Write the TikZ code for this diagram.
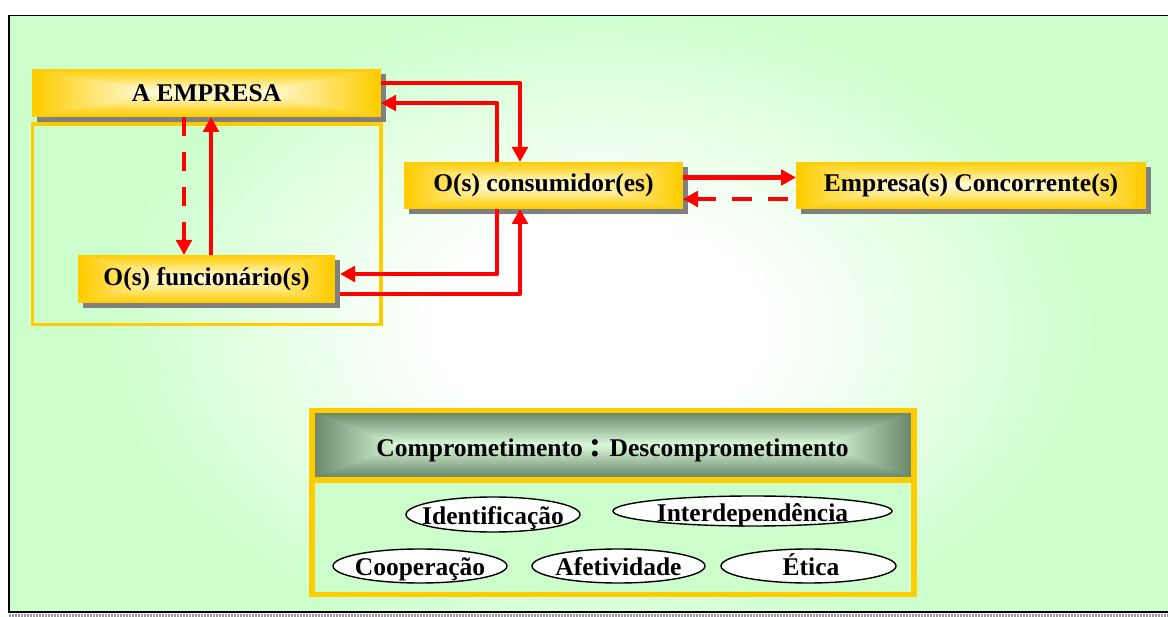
\documentclass[tikz,border=0pt]{standalone}
\usepackage{fontspec}
\setmainfont{Liberation Serif}
\usetikzlibrary{arrows.meta,shapes.geometric,shadows}

\definecolor{bggreen}{RGB}{204,255,204}
\definecolor{gold}{RGB}{255,204,0}
\definecolor{paleyel}{RGB}{255,251,214}
\definecolor{hdark}{RGB}{108,138,108}
\definecolor{hlight}{RGB}{214,246,214}
\definecolor{shadowgray}{RGB}{128,128,128}

% soft white glow in the middle of the green panel
\pgfdeclareradialshading{glow}{\pgfpoint{0bp}{0bp}}{color(0bp)=(white); color(8bp)=(white); color(25bp)=(bggreen); color(50bp)=(bggreen)}

% text placed in an oval without changing the oval's size
\newcommand\ovtxt[2]{\raisebox{#1}[0pt][0pt]{\makebox[0pt]{#2}}}

\begin{document}
\begin{tikzpicture}[x=1pt,y=-1pt,
  lbl/.style={font=\fontsize{25.5}{30}\selectfont\bfseries},
  % rectangular gradient: edge colour #3 fading to centre colour #4 over rx (#1) and ry (#2)
  ramp/.style n args={4}{path picture={
    \foreach \k in {0,...,20}{
      \pgfmathsetmacro\pc{100*\k/20}
      \pgfmathsetmacro\dx{\k*#1/20}
      \pgfmathsetmacro\dy{\k*#2/20}
      \fill[#4!\pc!#3]
        ([xshift=\dx pt, yshift=\dy pt]path picture bounding box.south west) rectangle
        ([xshift=-\dx pt, yshift=-\dy pt]path picture bounding box.north east);
    }}},
  goldbox/.style 2 args={lbl, inner sep=0pt, outer sep=0pt, fill=gold,
    ramp={#1}{#2}{gold}{paleyel},
    drop shadow={shadow xshift=5pt, shadow yshift=-5pt, fill=shadowgray, opacity=1}},
  oval/.style={ellipse, draw=black, line width=1.4pt, fill=white,
    inner sep=0pt, outer sep=0pt, lbl},
  arr/.style={draw=red, line width=4.5pt, line join=round,
    -{Triangle[length=15pt,width=15.5pt]}},
  dsh/.style={dash pattern=on 19pt off 16pt}
]
\useasboundingbox (0,0) rectangle (1168,617);
\clip (0,0) rectangle (1168,617);
\fill[white] (0,0) rectangle (1168,617);

% green panel with its black frame
\begin{scope}
  \clip (9,15.5) rectangle (1180,612);
  \fill[bggreen] (0,0) rectangle (1180,620);
  \shade[shading=glow] (100,0) rectangle (1100,660);
\end{scope}
\draw[line width=1.8pt] (9,15.5) rectangle (1180,612);
\draw[shadowgray!80, line width=2.5pt, dash pattern=on 2pt off 1pt] (9,615.3) -- (1168,615.3);

% company and its staff
\node[draw=gold, line width=3.5pt, inner sep=0pt, minimum width=348.5pt, minimum height=200.7pt] (grp) at (206.75,224.35) {};
\node[goldbox={110}{22}, minimum width=349pt, minimum height=48pt] (emp) at (206.5,93) {A EMPRESA};
\node[goldbox={90}{22}, minimum width=257pt, minimum height=48pt] (fun) at (206.5,279) {O(s) funcionário(s)};
\node[goldbox={90}{22}, minimum width=279pt, minimum height=47pt] (cons) at (543.5,185.5) {O(s) consumidor(es)};
\node[goldbox={100}{22}, minimum width=350pt, minimum height=47pt] (conc) at (971,185.5) {Empresa(s) Concorrente(s)};

% relations
\draw[arr, dsh] ([xshift=-22.5pt]emp.south) -- ([xshift=-22.5pt]fun.north);
\draw[arr] ([xshift=4.5pt]fun.north) -- ([xshift=4.5pt]emp.south);
\draw[arr] ([yshift=10pt]emp.east) -| ([xshift=-23.5pt]cons.north);
\draw[arr] ([xshift=-46.5pt]cons.north) |- ([yshift=-10pt]emp.east);
\draw[arr] ([xshift=-46.5pt]cons.south) |- ([xshift=5pt,yshift=5pt]fun.east);
\draw[arr] ([xshift=5pt,yshift=-15pt]fun.east) -| ([xshift=-23.5pt]cons.south);
\draw[arr] ([yshift=8pt]cons.east) -- ([yshift=8pt]conc.west);
\draw[arr, dash pattern=on 20pt off 16pt, dash phase=28pt] ([yshift=-13.5pt]conc.west) -- ([yshift=-13.5pt]cons.east);

% commitment panel
\fill[bggreen] (311.75,480) rectangle (913.75,594.5);
\node[lbl, inner sep=0pt, outer sep=0pt, minimum width=597pt, minimum height=64pt,
  text height=23pt, text depth=0pt, fill=hdark,
  ramp={80}{30}{hdark}{hlight}] (hdr) at (612.5,445.5)
  {Comprometimento {\fontsize{36}{36}\selectfont:} Descomprometimento};
\draw[gold, line width=5.5pt] (311.75,410.5) rectangle (913.75,594.5);
\draw[gold, line width=6pt] (311.75,480) -- (913.75,480);

\node[oval, minimum width=174pt, minimum height=35pt] (idn) at (493,514.5) {\ovtxt{-9.5pt}{Identificação}};
\node[oval, minimum width=279pt, minimum height=30pt] (itd) at (752.5,511) {\ovtxt{-11pt}{Interdependência}};
\node[oval, minimum width=174pt, minimum height=34pt] (coo) at (420,566) {\ovtxt{-9pt}{Cooperação}};
\node[oval, minimum width=173pt, minimum height=34pt] (afe) at (618.5,566) {\ovtxt{-9pt}{Afetividade}};
\node[oval, minimum width=175pt, minimum height=34pt] (eti) at (808.5,566) {\ovtxt{-9pt}{\hspace{5pt}Ética}};
\end{tikzpicture}
\end{document}
